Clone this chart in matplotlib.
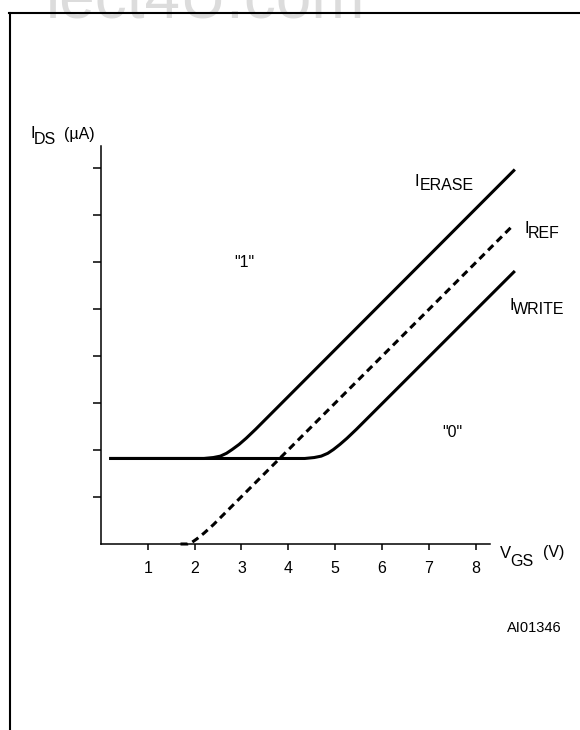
import matplotlib
matplotlib.use("Agg")
import matplotlib.pyplot as plt
from matplotlib.lines import Line2D

plt.rcParams['font.family'] = ['Liberation Sans', 'DejaVu Sans']

W, H = 580, 730

# dane (V_GS w V, I_DS w jednostkach podzialki)
vgs_ticks = [1, 2, 3, 4, 5, 6, 7, 8]
ids_ticks = [1, 2, 3, 4, 5, 6, 7, 8]

erase_v = [0.18, 2.2, 2.4, 2.55, 2.68, 2.8, 2.95, 3.1, 3.3, 8.83]
erase_i = [1.82, 1.82, 1.84, 1.87, 1.93, 2.01, 2.12, 2.25, 2.44, 7.97]

write_v = [0.18, 4.35, 4.55, 4.7, 4.84, 4.96, 5.1, 5.25, 5.45, 8.83]
write_i = [1.82, 1.82, 1.84, 1.87, 1.93, 2.01, 2.12, 2.25, 2.44, 5.81]

ref_v = [1.7, 1.85, 1.95, 2.05, 2.2, 2.4, 8.8]
ref_i = [0.0, 0.0, 0.04, 0.11, 0.23, 0.41, 6.79]

fig = plt.figure(figsize=(W / 100, H / 100), dpi=100)
ax = fig.add_axes([100.8 / W, 1 - 544 / H, (490 - 100.8) / W, (544 - 146) / H])

ax.plot(erase_v, erase_i, color='black', lw=2.2, clip_on=False, solid_capstyle='butt')
ax.plot(write_v, write_i, color='black', lw=2.2, clip_on=False, solid_capstyle='butt')
ax.plot(ref_v, ref_i, color='black', lw=2.2, clip_on=False, linestyle=(0, (2.4, 1.6)))

ax.set_xlim(0, 8.3)
ax.set_ylim(0, 8.47)
ax.set_xticks(vgs_ticks)
ax.set_xticklabels([str(v) for v in vgs_ticks], fontsize=11.5)
ax.set_yticks(ids_ticks)
ax.set_yticklabels([])
ax.tick_params(axis='x', direction='out', length=4.5, width=1.1, pad=7.5)
ax.tick_params(axis='y', direction='out', length=5.5, width=1.1)
for s in ['top', 'right']:
    ax.spines[s].set_visible(False)
for s in ['left', 'bottom']:
    ax.spines[s].set_linewidth(1.1)


def lab(x, y, s, size, **kw):
    # pozycja w pikselach, y = linia bazowa
    fig.text(x / W, 1 - y / H, s, fontsize=size, va='baseline', **kw)


# os Y
lab(30, 137.7, "I", 12)
lab(34, 143.5, "DS", 11.5)
lab(64, 139, "(µA)", 11.5)
# os X
lab(500, 558.5, "V", 12)
lab(510, 566, "GS", 11.5)
lab(542.5, 557, "(V)", 11.5)
# krzywe
lab(415, 186, "I", 12)
lab(419.5, 190.5, "ERASE", 11.5)
lab(524, 233, "I", 12)
lab(528, 237.5, "REF", 11.5)
lab(509.5, 309.5, "I", 12)
lab(513, 314, "WRITE", 11.5)
lab(244, 267, '"1"', 11.5, ha='center')
lab(452.5, 436.7, '"0"', 11.5, ha='center')
lab(507.3, 631.7, "AI01346", 10.5)

# ramka
fig.add_artist(Line2D([9 / W, 1], [1 - 13.3 / H] * 2, color='black', lw=1.5))
fig.add_artist(Line2D([10 / W] * 2, [0, 1 - 13.3 / H], color='black', lw=1.5))

# znak wodny
lab(365, 18, "lect4U.com", 46, ha='right', color='#dcdcdc', zorder=0)

fig.savefig("out.png", dpi=100)
